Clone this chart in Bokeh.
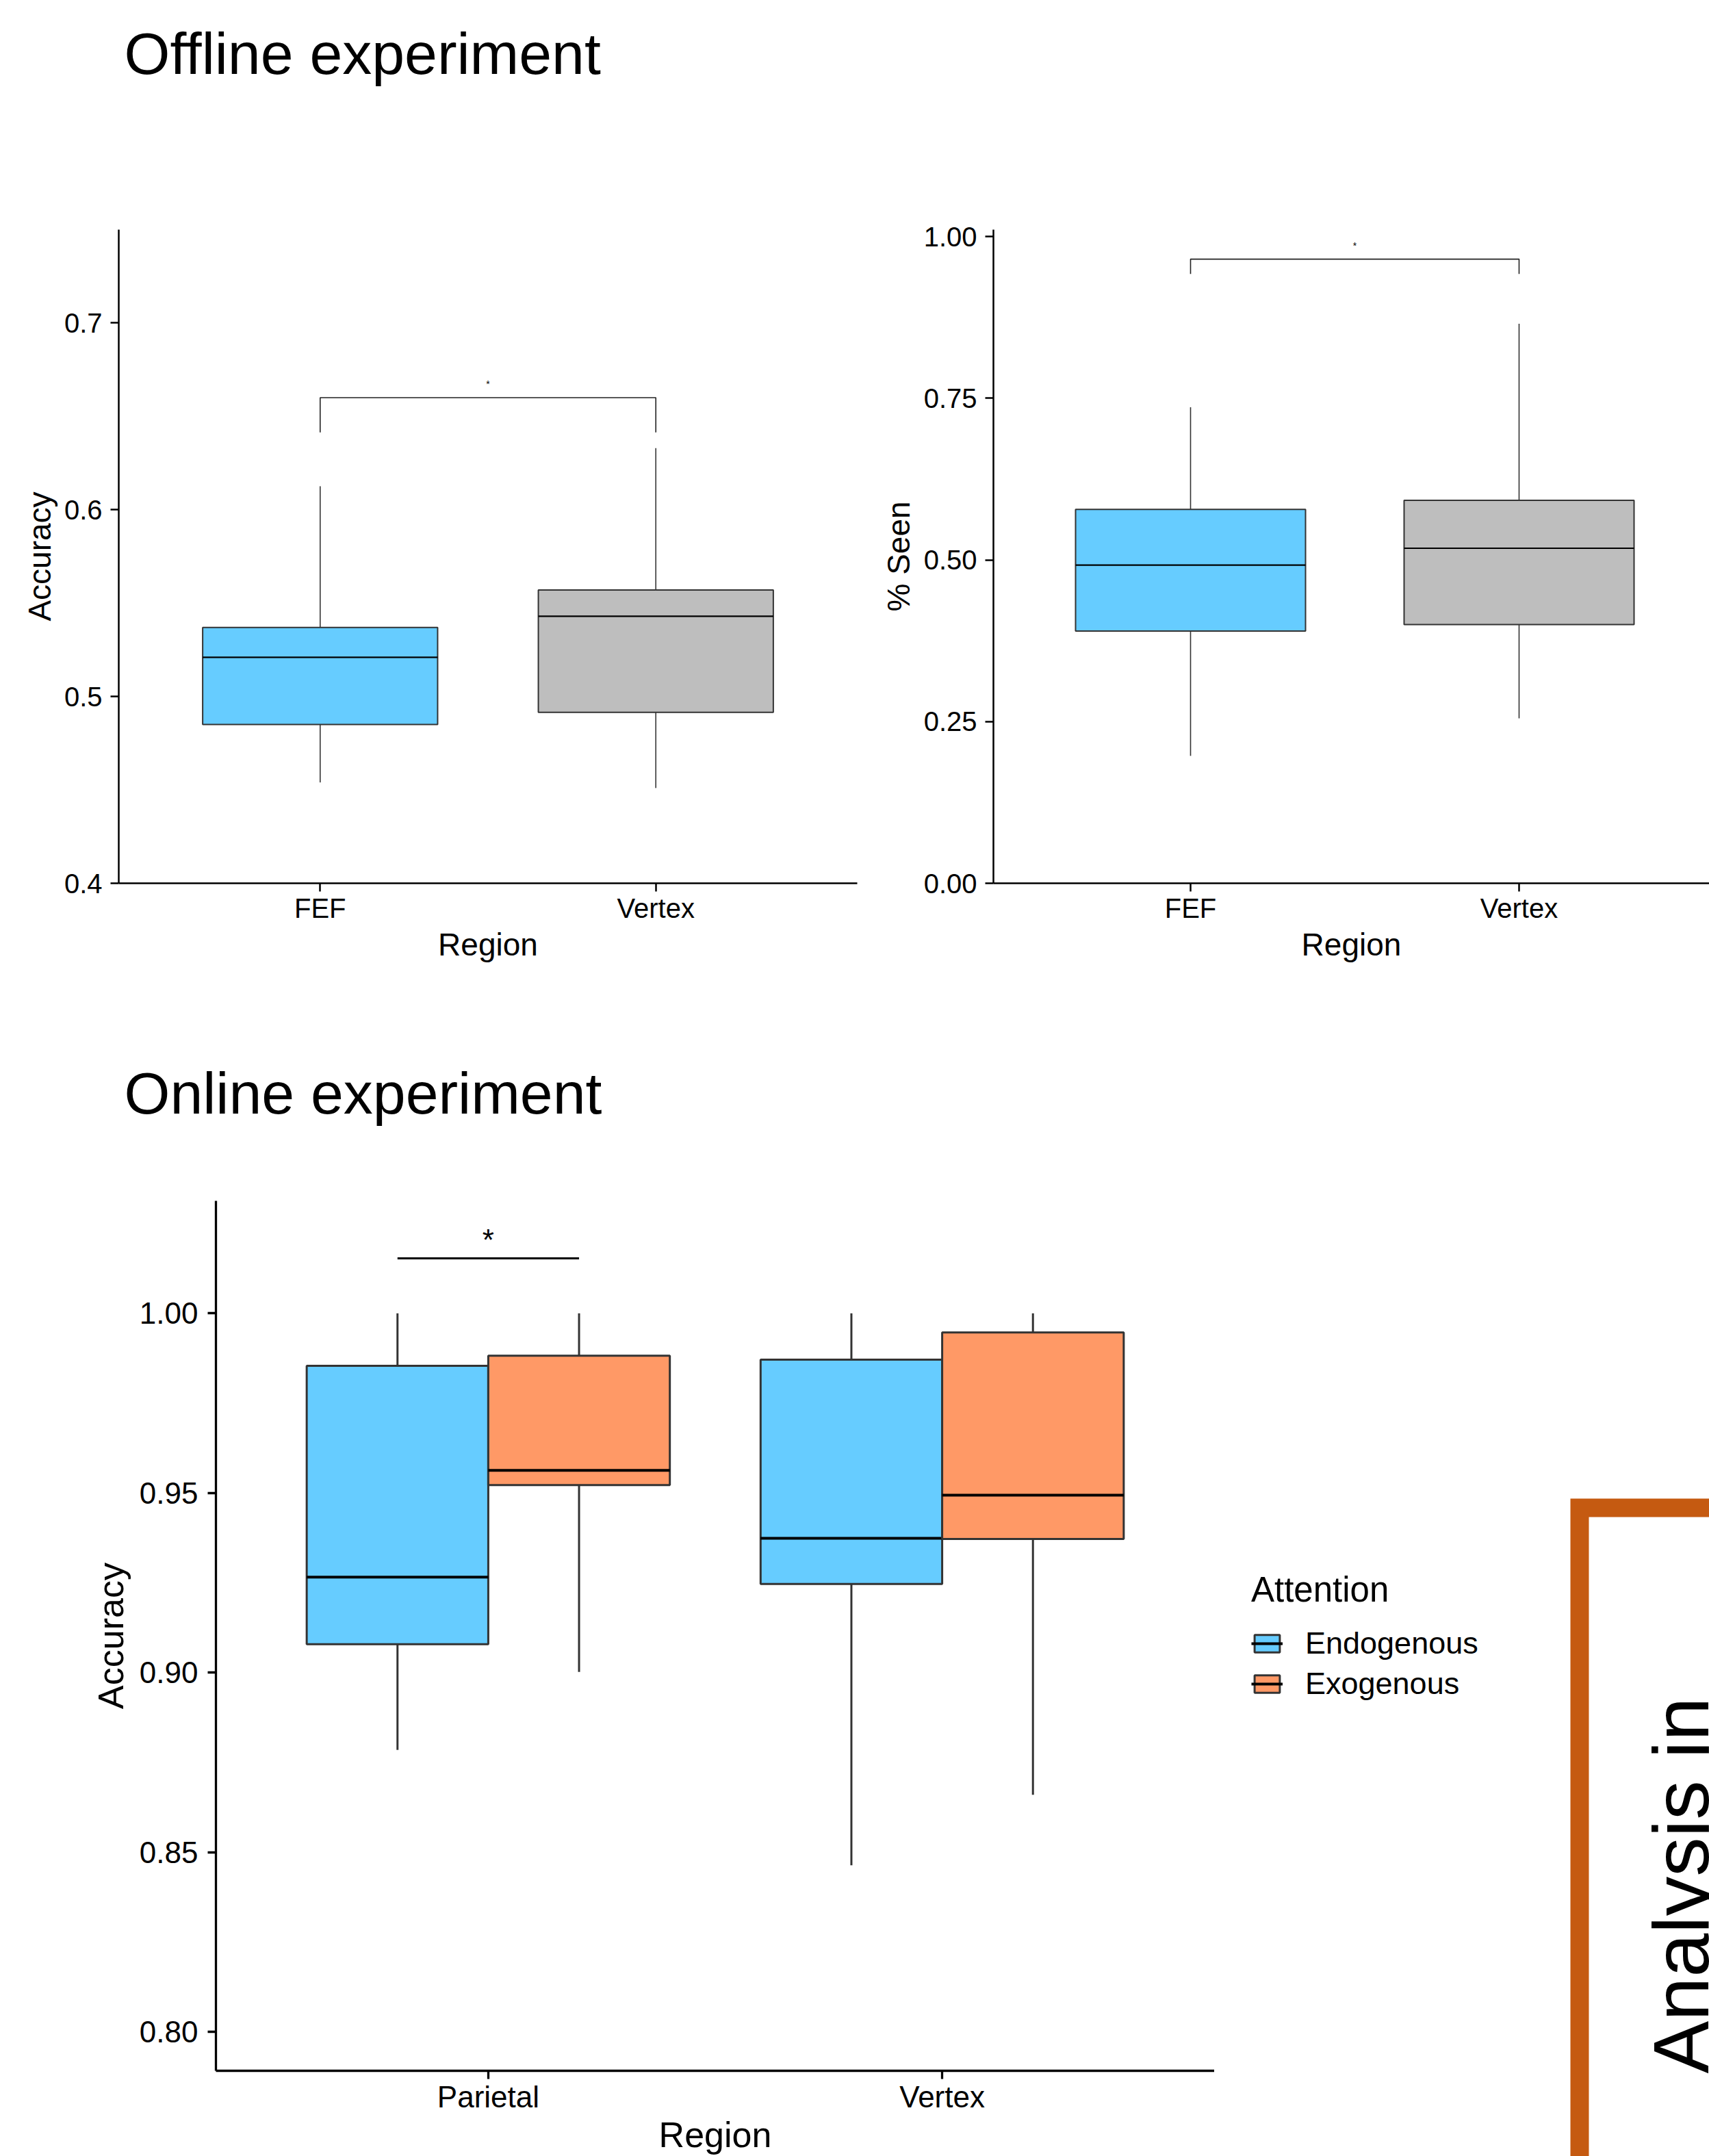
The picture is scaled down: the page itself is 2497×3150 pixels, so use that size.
import math
import numpy as np
from bokeh.plotting import figure
from bokeh.layouts import column, row
from bokeh.models import Range1d, FixedTicker, Legend, LegendItem, NumeralTickFormatter
from bokeh.embed import file_html
from bokeh.resources import INLINE
from bokeh.core.properties import value

FONT = "Liberation Sans"

# ---------------- data ----------------
# Offline experiment
off_regions = ["FEF", "Vertex"]
off_colors = ["#66CCFF", "#BEBEBE"]

acc_low = [0.454, 0.451]
acc_q1 = [0.485, 0.4915]
acc_med = [0.521, 0.543]
acc_q3 = [0.537, 0.557]
acc_high = [0.6126, 0.633]
acc_bracket = [0.66, 0.6414]       # bracket height, tip end
acc_ticks = [0.4, 0.5, 0.6, 0.7]

seen_low = [0.197, 0.255]
seen_q1 = [0.390, 0.400]
seen_med = [0.492, 0.518]
seen_q3 = [0.578, 0.592]
seen_high = [0.736, 0.865]
seen_bracket = [0.965, 0.942]
seen_ticks = [0.0, 0.25, 0.5, 0.75, 1.0]

# Online experiment
on_regions = ["Parietal", "Vertex"]
attention = ["Endogenous", "Exogenous"]
att_colors = ["#66CCFF", "#FF9966"]

endo_low = [0.8785, 0.8464]
endo_q1 = [0.9079, 0.9247]
endo_med = [0.9266, 0.9374]
endo_q3 = [0.9854, 0.9871]
endo_high = [1.0, 1.0]

exo_low = [0.9002, 0.8660]
exo_q1 = [0.9522, 0.9372]
exo_med = [0.9563, 0.9494]
exo_q3 = [0.9882, 0.9947]
exo_high = [1.0, 1.0]

online_sig_y = 1.0153
online_ticks = [0.80, 0.85, 0.90, 0.95, 1.00]

titles = ["Offline experiment", "Online experiment"]
side_text = "Analysis in"


def style_axes(p, tick_px, title_px, line_w):
    for ax in (p.xaxis[0], p.yaxis[0]):
        ax.axis_line_color = "black"
        ax.axis_line_width = line_w
        ax.major_tick_line_color = "black"
        ax.major_tick_line_width = line_w
        ax.major_tick_out = 12
        ax.major_tick_in = 0
        ax.minor_tick_line_color = None
        ax.major_label_text_font = FONT
        ax.major_label_text_font_size = tick_px
        ax.major_label_text_color = "black"
        ax.axis_label_text_font = FONT
        ax.axis_label_text_font_size = title_px
        ax.axis_label_text_font_style = "normal"
        ax.axis_label_text_color = "black"
    p.xgrid.visible = False
    p.ygrid.visible = False
    p.outline_line_color = None


def blank_fig(w, h):
    p = figure(width=w, height=h, x_range=Range1d(0, w), y_range=Range1d(h, 0),
               output_backend="svg", toolbar_location=None, min_border=0,
               x_axis_location=None, y_axis_location=None)
    p.xgrid.visible = False
    p.ygrid.visible = False
    p.outline_line_color = None
    p.frame_align = False
    return p


def title_fig(w, h, text, baseline):
    p = blank_fig(w, h)
    p.text(x=[181], y=[baseline], text=[text], text_align="left", text_baseline="alphabetic",
           text_font=value(FONT), text_font_size="86px", text_color="black")
    return p


def offline_panel(width, height, mbl, mbr, mbt, mbb, xend, yr, ticks, fmt, ylabel,
                  low, q1, med, q3, high, bracket, ylab_standoff):
    p = figure(width=width, height=height, x_range=Range1d(0.4, xend), y_range=Range1d(*yr),
               output_backend="svg", toolbar_location=None,
               min_border_left=mbl, min_border_right=mbr, min_border_top=mbt, min_border_bottom=mbb)
    p.frame_align = False
    x = np.arange(1, len(off_regions) + 1).astype(float)
    bw = 0.7
    p.segment(x0=x, y0=q3, x1=x, y1=high, line_color="#333333", line_width=1.6)
    p.segment(x0=x, y0=low, x1=x, y1=q1, line_color="#333333", line_width=1.6)
    p.vbar(x=x, bottom=q1, top=q3, width=bw, fill_color=off_colors,
           line_color="#333333", line_width=2)
    p.segment(x0=x - bw / 2, y0=med, x1=x + bw / 2, y1=med, line_color="black", line_width=2.2)
    top, tip = bracket
    p.line(x=[x[0], x[0], x[1], x[1]], y=[tip, top, top, tip], line_color="#222222", line_width=1.6)
    p.text(x=[(x[0] + x[1]) / 2], y=[top], text=["*"], text_align="center",
           text_baseline="alphabetic", y_offset=-20, text_font=value(FONT),
           text_font_size="14px", text_color="black")
    style_axes(p, "40px", "46px", 2.5)
    p.xaxis.ticker = FixedTicker(ticks=list(x))
    p.xaxis.major_label_overrides = {float(v): r for v, r in zip(x, off_regions)}
    p.xaxis.axis_label = "Region"
    p.xaxis.major_label_standoff = 2
    p.xaxis.axis_label_standoff = 2
    p.yaxis.ticker = FixedTicker(ticks=ticks)
    p.yaxis.formatter = NumeralTickFormatter(format=fmt)
    p.yaxis.axis_label = ylabel
    p.yaxis.major_label_standoff = 12
    p.yaxis.axis_label_standoff = ylab_standoff
    return p


# ---------- title 1 ----------
t1 = title_fig(2497, 180, titles[0], 77)

# ---------- Row 1 ----------
pA = offline_panel(1273, 1270, 173, 21, 155, 160, 2.6, (0.4, 0.75), acc_ticks, "0.0", "Accuracy",
                   acc_low, acc_q1, acc_med, acc_q3, acc_high, acc_bracket, 7)
pB = offline_panel(1224, 1270, 178, 0, 155, 160, 0.4 + 1046 / 480, (0.0, 1.0106), seen_ticks, "0.00",
                   "% Seen", seen_low, seen_q1, seen_med, seen_q3, seen_high, seen_bracket, 8)

# ---------- title 2 ----------
t2 = title_fig(2497, 210, titles[1], 146)

# ---------- Row 2 : online ----------
pC = figure(width=1774, height=1490, x_range=Range1d(0.4, 2.6), y_range=Range1d(0.7892, 1.0313),
            output_backend="svg", toolbar_location=None,
            min_border_left=315, min_border_right=0, min_border_top=94, min_border_bottom=124)
pC.frame_align = False
xc = np.arange(1, len(on_regions) + 1).astype(float)
dodge = 0.2
bw = 0.4
groups = [
    (endo_low, endo_q1, endo_med, endo_q3, endo_high),
    (exo_low, exo_q1, exo_med, exo_q3, exo_high),
]
for gi, (lo, a1, md, a3, hi) in enumerate(groups):
    xs = xc + (-dodge if gi == 0 else dodge)
    pC.segment(x0=xs, y0=a3, x1=xs, y1=hi, line_color="#333333", line_width=3)
    pC.segment(x0=xs, y0=lo, x1=xs, y1=a1, line_color="#333333", line_width=3)
    pC.vbar(x=xs, bottom=a1, top=a3, width=bw, fill_color=att_colors[gi],
            line_color="#333333", line_width=3)
    pC.segment(x0=xs - bw / 2, y0=md, x1=xs + bw / 2, y1=md, line_color="black", line_width=4)

# significance line between Endogenous and Exogenous at Parietal
pC.line(x=[xc[0] - dodge, xc[0] + dodge], y=[online_sig_y, online_sig_y], line_color="black", line_width=3)
pC.text(x=[xc[0]], y=[online_sig_y], text=["*"], text_align="center", text_baseline="alphabetic",
        y_offset=-27, text_font=value(FONT), text_font_size="44px", text_color="black")

style_axes(pC, "44px", "52px", 3.3)
pC.xaxis.ticker = FixedTicker(ticks=list(xc))
pC.xaxis.major_label_overrides = {float(v): r for v, r in zip(xc, on_regions)}
pC.xaxis.axis_label = "Region"
pC.xaxis.major_label_standoff = 1
pC.xaxis.axis_label_standoff = -1
pC.yaxis.ticker = FixedTicker(ticks=online_ticks)
pC.yaxis.formatter = NumeralTickFormatter(format="0.00")
pC.yaxis.axis_label = "Accuracy"
pC.yaxis.major_label_standoff = 14
pC.yaxis.axis_label_standoff = 10

# ---------- legend panel for the online plot ----------
pE = blank_fig(516, 1490)
legend_items = []
nan1 = np.array([np.nan])
for gi, name in enumerate(attention):
    # proxy renderers (not drawn: NaN position) that supply the legend glyph styling
    rb = pE.vbar(x=nan1, bottom=nan1, top=nan1, width=1, fill_color=att_colors[gi],
                 line_color="#333333", line_width=3)
    rm = pE.segment(x0=nan1, y0=nan1, x1=nan1, y1=nan1, line_color="black", line_width=4)
    legend_items.append(LegendItem(label=name, renderers=[rb, rm]))
legend = Legend(items=legend_items, title="Attention", location=(54, 664),
                title_text_font=FONT, title_text_font_size="51px", title_text_font_style="normal",
                title_text_color="black",
                label_text_font=FONT, label_text_font_size="45px", label_text_color="black",
                glyph_width=46, glyph_height=32, label_standoff=33, spacing=7,
                title_standoff=23, padding=0, margin=0,
                border_line_color=None, background_fill_alpha=0)
pE.add_layout(legend, "center")

# ---------- framed side panel (cropped at the page edge) ----------
pD = blank_fig(207, 1490)
pD.quad(left=[17.5], right=[700], top=[542.5], bottom=[3000], fill_color=None,
        line_color="#C55A11", line_width=27, line_join="miter")
pD.text(x=[165], y=[1369], text=[side_text], angle=math.pi / 2, text_align="left",
        text_baseline="alphabetic", text_font=value(FONT), text_font_size="115px", text_color="black")

layout = column(t1, row(pA, pB), t2, row(pC, pE, pD))

with open("out.html", "w") as f:
    f.write(file_html(layout, INLINE))
